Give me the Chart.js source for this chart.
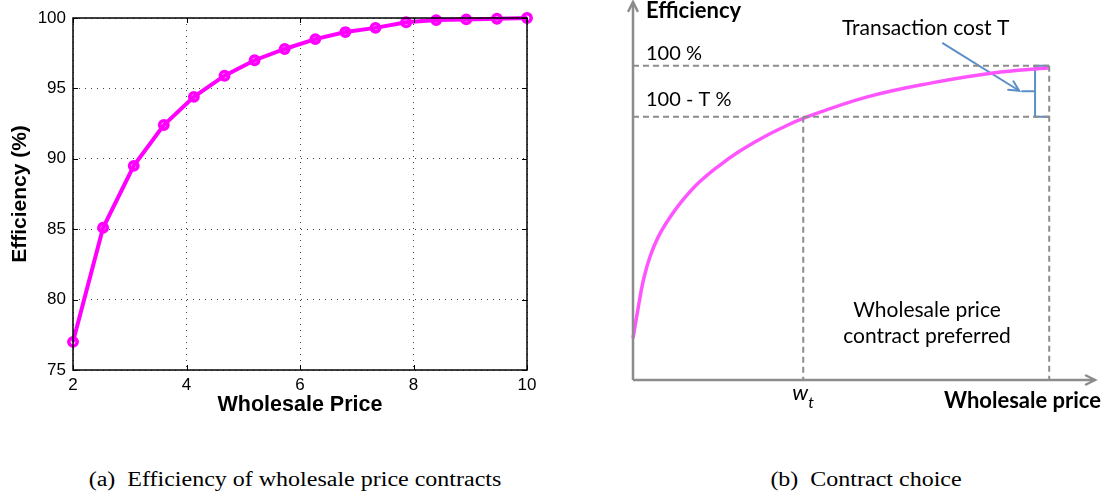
<!DOCTYPE html>
<html>
<head>
<meta charset="utf-8">
<script src="https://cdn.jsdelivr.net/npm/chart.js@4.4.1/dist/chart.umd.min.js"></script>
<style>
  body { margin: 0; background: #fff; width: 1102px; height: 495px; position: relative; overflow: hidden; }
  #left { position: absolute; left: 0; top: 0; }
  #right { position: absolute; left: 600px; top: 0; }
  .cap { position: absolute; top: 468px; font-family: "Liberation Serif", serif; font-size: 20px; color: #000; white-space: nowrap; transform: translateX(-50%) scaleX(1.2); }
</style>
</head>
<body>
<canvas id="left" width="560" height="420"></canvas>
<canvas id="right" width="502" height="420"></canvas>
<div class="cap" style="left:295px">(a)&nbsp; Efficiency of wholesale price contracts</div>
<div class="cap" style="left:866px">(b)&nbsp; Contract choice</div>
<script>
// (a) simulated efficiency vs wholesale price
const wholesalePrice = [2, 2.53, 3.07, 3.6, 4.13, 4.67, 5.2, 5.73, 6.27, 6.8, 7.33, 7.87, 8.4, 8.93, 9.47, 10];
const efficiencyPct = [77.0, 85.1, 89.5, 92.4, 94.4, 95.9, 97.0, 97.8, 98.5, 99.0, 99.3, 99.7, 99.85, 99.9, 99.95, 100];
const priceTicks = [2, 4, 6, 8, 10];
const effTicks = [75, 80, 85, 90, 95, 100];

// (b) schematic, arbitrary units
const curvePrice = [0, 0.13, 0.25, 0.41, 0.61, 0.85, 1.17, 1.57, 2.05, 2.53, 3.09, 3.57, 4.09, 5.63, 7.21, 8.65, 10];
const curveEff = [46.6, 52.8, 58.0, 62.6, 66.5, 69.8, 73.4, 77.0, 80.3, 83.1, 85.8, 87.8, 89.7, 93.9, 96.7, 98.6, 99.6];
const fullEff = 100;
const lowEff = 90;        // 100 - T
const wT = 4.09;
const wMax = 10;
const bracePrice = [10, 9.66, 9.66, 9.33, 9.66, 9.66, 10];
const braceEff = [100, 100, 95, 95, 95, 90, 90];
const pointerPrice = [7.43, 9.28];
const pointerEff = [104.5, 95.1];
const schemX = [0, 11.1];
const schemY = [38.4, 112.5];

function pairs(xs, ys) {
    return xs.map(function(x, i) { return { x: x, y: ys[i] }; });
}

// ---------- left chart ----------
const framePlugin = {
    id: 'frame',
    afterDatasetsDraw: function(chart) {
        const ctx = chart.ctx;
        const a = chart.chartArea;
        const xs = chart.scales.x, ys = chart.scales.y;
        ctx.save();
        ctx.strokeStyle = '#000';
        ctx.lineWidth = 1;
        ctx.beginPath();
        // inward tick marks on all four sides
        priceTicks.forEach(function(v) {
            const px = Math.round(xs.getPixelForValue(v)) + 0.5;
            ctx.moveTo(px, a.bottom); ctx.lineTo(px, a.bottom - 5);
            ctx.moveTo(px, a.top); ctx.lineTo(px, a.top + 5);
        });
        effTicks.forEach(function(v) {
            const py = Math.round(ys.getPixelForValue(v)) + 0.5;
            ctx.moveTo(a.left, py); ctx.lineTo(a.left + 5, py);
            ctx.moveTo(a.right, py); ctx.lineTo(a.right - 5, py);
        });
        ctx.stroke();
        ctx.lineWidth = 1.5;
        ctx.strokeRect(a.left, a.top, a.right - a.left, a.bottom - a.top);
        ctx.restore();
    }
};

const leftChart = new Chart(document.getElementById('left'), {
    type: 'line',
    data: {
        datasets: [{
            data: pairs(wholesalePrice, efficiencyPct),
            borderColor: '#ff00ff',
            borderWidth: 4,
            pointRadius: 4.2,
            pointBorderWidth: 3.5,
            pointBackgroundColor: 'rgba(255,255,255,0)',
            pointBorderColor: '#ff00ff',
            tension: 0,
            clip: false
        }]
    },
    options: {
        responsive: false,
        animation: false,
        events: [],
        layout: { padding: { left: 0, top: 18, right: 33, bottom: 0 } },
        plugins: { legend: { display: false }, tooltip: { enabled: false } },
        scales: {
            x: {
                type: 'linear', min: 2, max: 10,
                afterFit: function(s) { s.height = 50; },
                afterBuildTicks: function(s) { s.ticks = priceTicks.map(function(v) { return { value: v }; }); },
                grid: { color: '#444', drawTicks: false },
                border: { display: false, dash: [1, 5] },
                ticks: { color: '#000', padding: 5, font: { family: '"Liberation Sans", Arial', size: 17 } },
                title: { display: true, text: 'Wholesale Price', color: '#000', padding: { top: 0, bottom: 2 },
                         font: { family: '"Liberation Sans", Arial', size: 21.5, weight: 'bold' } }
            },
            y: {
                type: 'linear', min: 75, max: 100,
                afterFit: function(s) { s.width = 73; },
                afterBuildTicks: function(s) { s.ticks = effTicks.map(function(v) { return { value: v }; }); },
                grid: { color: '#444', drawTicks: false },
                border: { display: false, dash: [1, 5] },
                ticks: { color: '#000', padding: 7, font: { family: '"Liberation Sans", Arial', size: 17 } },
                title: { display: true, text: 'Efficiency (%)', color: '#000', padding: { top: 8, bottom: 0 },
                         font: { family: '"Liberation Sans", Arial', size: 21, weight: 'bold' } }
            }
        }
    },
    plugins: [framePlugin]
});

// ---------- right chart ----------
function chevron(ctx, x0, y0, x1, y1, len, half) {
    const ang = Math.atan2(y1 - y0, x1 - x0);
    ctx.beginPath();
    ctx.moveTo(x1 - len * Math.cos(ang) + half * Math.sin(ang), y1 - len * Math.sin(ang) - half * Math.cos(ang));
    ctx.lineTo(x1, y1);
    ctx.lineTo(x1 - len * Math.cos(ang) - half * Math.sin(ang), y1 - len * Math.sin(ang) + half * Math.cos(ang));
    ctx.stroke();
}

const schemePlugin = {
    id: 'scheme',
    afterDatasetsDraw: function(chart) {
        const ctx = chart.ctx;
        const xs = chart.scales.x, ys = chart.scales.y;
        const X = function(v) { return xs.getPixelForValue(v); };
        const Y = function(v) { return ys.getPixelForValue(v); };
        ctx.save();
        ctx.lineCap = 'round';
        // axis arrowheads
        ctx.strokeStyle = '#8c8c8c';
        ctx.lineWidth = 2.5;
        chevron(ctx, X(0), Y(schemY[0]), X(0), Y(schemY[1]), 9, 4.5);
        chevron(ctx, X(0), Y(schemY[0]), X(schemX[1]), Y(schemY[0]), 9, 4.5);
        // pointer arrowhead
        ctx.strokeStyle = '#5b8fc7';
        ctx.lineWidth = 2;
        chevron(ctx, X(pointerPrice[0]), Y(pointerEff[0]), X(pointerPrice[1]), Y(pointerEff[1]), 10, 5);

        ctx.fillStyle = '#000';
        ctx.textBaseline = 'alphabetic';
        const big = '21px Lato, "Open Sans", sans-serif';
        const small = '20px Lato, "Open Sans", sans-serif';
        const bold = 'bold 22px Lato, "Open Sans", sans-serif';
        ctx.textAlign = 'left';
        ctx.font = bold;
        ctx.fillText('Efficiency', X(0) + 13, 18);
        ctx.font = small;
        ctx.fillText('100 %', X(0) + 13, Y(fullEff) - 6);
        ctx.fillText('100 - T %', X(0) + 13, Y(lowEff) - 11);
        ctx.font = big;
        ctx.fillText('Transaction cost T', 242, 35);
        ctx.textAlign = 'center';
        ctx.fillText('Wholesale price', 327, 317);
        ctx.fillText('contract preferred', 327, 343);
        ctx.font = bold;
        ctx.textAlign = 'right';
        ctx.fillText('Wholesale price', 501, 408);
        // w_t label
        ctx.textAlign = 'left';
        ctx.font = 'italic 22px Lato, "Open Sans", sans-serif';
        ctx.fillText('w', X(wT) - 11, 400);
        ctx.font = 'italic 16px Lato, "Open Sans", sans-serif';
        ctx.fillText('t', X(wT) + 5, 408);
        ctx.restore();
    }
};

const grey = '#8c8c8c';
function dashed(xs, ys) {
    return { data: pairs(xs, ys), borderColor: grey, borderWidth: 2, borderDash: [6, 4], pointRadius: 0, tension: 0, clip: false };
}

const rightChart = new Chart(document.getElementById('right'), {
    type: 'line',
    data: {
        datasets: [
            dashed([0, wMax], [fullEff, fullEff]),
            dashed([0, wMax], [lowEff, lowEff]),
            dashed([wT, wT], [lowEff, schemY[0]]),
            dashed([wMax, wMax], [fullEff, schemY[0]]),
            { data: pairs([0, 0], schemY), borderColor: grey, borderWidth: 2.5, pointRadius: 0, clip: false },
            { data: pairs(schemX, [schemY[0], schemY[0]]), borderColor: grey, borderWidth: 2.5, pointRadius: 0, clip: false },
            { data: pairs(curvePrice, curveEff), borderColor: '#ff55ff', borderWidth: 3.5, pointRadius: 0,
              tension: 0.4, clip: false },
            { data: pairs(bracePrice, braceEff), borderColor: '#5b8fc7', borderWidth: 2, pointRadius: 0, tension: 0, clip: false },
            { data: pairs(pointerPrice, pointerEff), borderColor: '#5b8fc7', borderWidth: 2, pointRadius: 0, tension: 0, clip: false }
        ]
    },
    options: {
        responsive: false,
        animation: false,
        events: [],
        layout: { padding: { left: 33, top: 2, right: 7, bottom: 40 } },
        plugins: { legend: { display: false }, tooltip: { enabled: false } },
        scales: {
            x: { type: 'linear', display: false, min: schemX[0], max: schemX[1] },
            y: { type: 'linear', display: false, min: schemY[0], max: schemY[1] }
        }
    },
    plugins: [schemePlugin]
});
</script>
</body>
</html>
